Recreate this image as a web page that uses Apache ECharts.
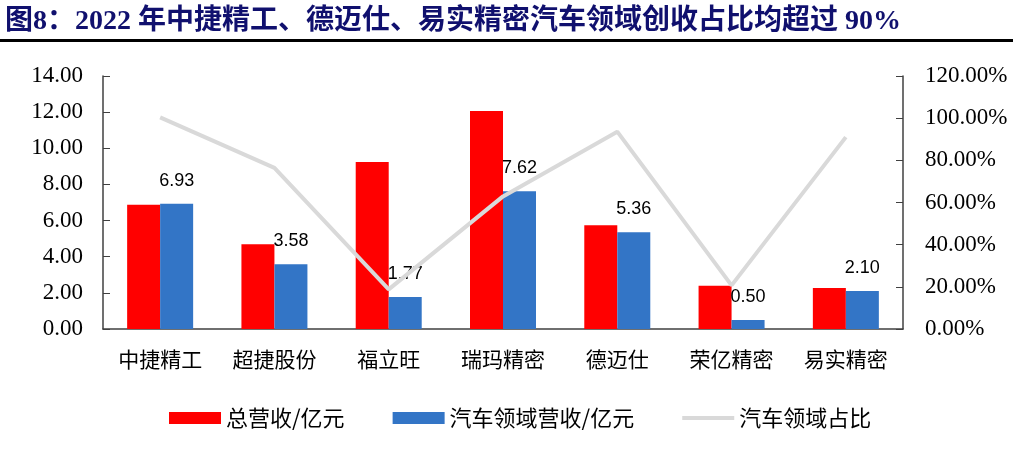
<!DOCTYPE html>
<html>
<head>
<meta charset="utf-8">
<script src="https://cdn.jsdelivr.net/npm/echarts@6/dist/echarts.min.js"></script>
<style>
  html, body { margin: 0; padding: 0; background: #fff; }
  #main { width: 1016px; height: 463px; }
</style>
</head>
<body>
<div id="main"></div>
<script>
// 公司
var companies = ["中捷精工", "超捷股份", "福立旺", "瑞玛精密", "德迈仕", "荣亿精密", "易实精密"];
// 总营收/亿元
var totalRevenue = [6.88, 4.69, 9.24, 12.06, 5.74, 2.40, 2.27];
// 汽车领域营收/亿元
var autoRevenue = [6.93, 3.58, 1.77, 7.62, 5.36, 0.50, 2.10];
// 汽车领域占比 (%)
var autoShare = [100.4, 76.4, 18.8, 62.9, 93.6, 20.7, 91.0];

var serifFont = "'Liberation Serif', 'Times New Roman', serif";
var cjkFont = "'Noto Sans CJK SC', sans-serif";

var myChart = echarts.init(document.getElementById("main"));
myChart.setOption({
  animation: false,
  title: {
    text: "图8：2022 年中捷精工、德迈仕、易实精密汽车领域创收占比均超过 90%",
    left: 0,
    top: 3,
    textStyle: {
      fontFamily: "'Liberation Serif', 'Noto Sans CJK SC', serif",
      fontSize: 28,
      fontWeight: "bold",
      color: "#10106e"
    }
  },
  graphic: [
    {
      type: "rect",
      left: 0,
      top: 39,
      shape: { width: 1013, height: 3 },
      style: { fill: "#000" }
    }
  ],
  legend: {
    left: 164,
    top: 402,
    itemWidth: 52,
    itemHeight: 12,
    itemGap: 48,
    textStyle: { fontFamily: cjkFont, fontSize: 22, color: "#000" },
    data: [
      { name: "总营收/亿元", icon: "rect" },
      { name: "汽车领域营收/亿元", icon: "rect" },
      { name: "汽车领域占比", icon: "path://M0,0 L52,0 L52,4 L0,4 Z" }
    ]
  },
  grid: { left: 103, right: 113, top: 76, bottom: 134 },
  xAxis: [
    {
      type: "category",
      data: companies,
      axisLine: { lineStyle: { color: "#404040", width: 1.5 } },
      axisTick: { inside: true, length: 7, lineStyle: { color: "#404040" } },
      axisLabel: {
        interval: 0,
        fontFamily: cjkFont,
        fontSize: 21,
        color: "#000",
        margin: 20
      }
    }
  ],
  yAxis: [
    {
      type: "value",
      min: 0,
      max: 14,
      interval: 2,
      splitLine: { show: false },
      axisLine: { show: true, lineStyle: { color: "#404040", width: 1.5 } },
      axisTick: { show: true, inside: true, length: 7, lineStyle: { color: "#404040" } },
      axisLabel: {
        fontFamily: serifFont,
        fontSize: 23,
        color: "#000",
        margin: 20,
        formatter: function (v) { return v.toFixed(2); }
      }
    },
    {
      type: "value",
      min: 0,
      max: 120,
      interval: 20,
      position: "right",
      splitLine: { show: false },
      axisLine: { show: true, lineStyle: { color: "#404040", width: 1.5 } },
      axisTick: { show: true, inside: true, length: 7, lineStyle: { color: "#404040" } },
      axisLabel: {
        fontFamily: serifFont,
        fontSize: 23,
        color: "#000",
        margin: 22,
        formatter: function (v) { return v.toFixed(2) + "%"; }
      }
    }
  ],
  series: [
    {
      name: "总营收/亿元",
      type: "bar",
      barWidth: 33,
      barGap: "0%",
      itemStyle: { color: "#ff0000" },
      data: totalRevenue
    },
    {
      name: "汽车领域营收/亿元",
      type: "bar",
      barWidth: 33,
      barGap: "0%",
      itemStyle: { color: "#3375c6" },
      label: {
        show: true,
        position: "top",
        distance: 14,
        fontFamily: "'Liberation Sans', Arial, sans-serif",
        fontSize: 18,
        color: "#000",
        formatter: function (p) { return p.value.toFixed(2); }
      },
      data: autoRevenue
    },
    {
      name: "汽车领域占比",
      type: "line",
      yAxisIndex: 1,
      symbol: "none",
      lineStyle: { color: "#d9d9d9", width: 4 },
      itemStyle: { color: "#d9d9d9" },
      data: autoShare
    }
  ]
});
window.addEventListener("resize", function () {
  myChart.resize();
});
</script>
</body>
</html>
